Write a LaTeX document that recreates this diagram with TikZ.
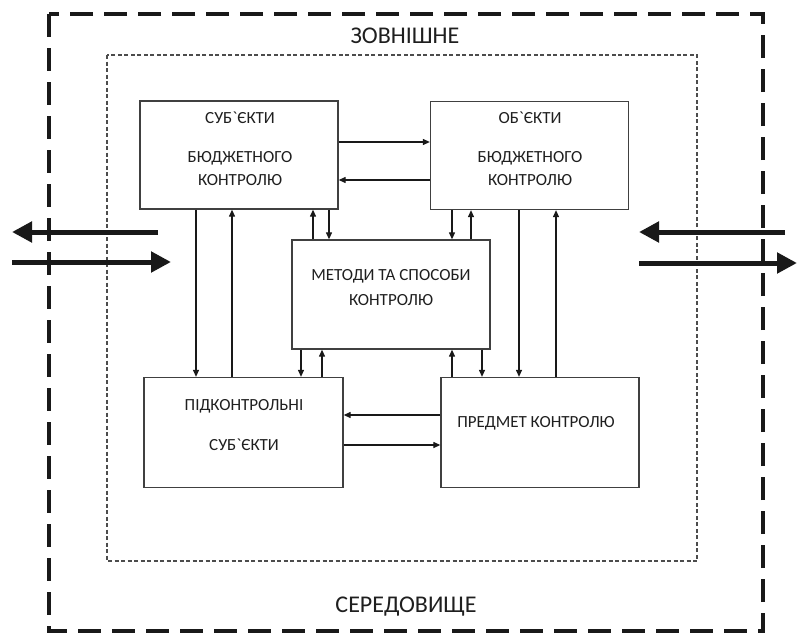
\documentclass[tikz,border=0pt]{standalone}
\usepackage{fontspec}
\setmainfont{Carlito}
\usetikzlibrary{arrows.meta}
\tikzset{
  box/.style={draw=black!75, line width=1.3pt, minimum width=198pt, minimum height=108pt, inner sep=0pt, fill=white},
  lbl/.style={font=\fontsize{17}{19}\selectfont, text=black!88, inner sep=0pt},
  big/.style={font=\fontsize{24}{28}\selectfont, text=black!88, inner sep=0pt},
  arr/.style={line width=1.2pt, draw=black!90, -{Triangle[length=7pt,width=6pt]}},
  fat/.style={line width=5pt, draw=black!90, -{Triangle[length=20pt,width=20pt]}},
  outer/.style={draw=black!90, line width=4pt, dash pattern=on 23pt off 11pt},
  inner/.style={draw=black!70, line width=1.1pt, dash pattern=on 4pt off 2.5pt}
}
\begin{document}
\begin{tikzpicture}[x=1pt,y=-1pt]
\useasboundingbox (0,0) rectangle (803,637);
\fill[white] (0,0) rectangle (803,637);
% frames
\draw[outer] (49,14) rectangle (763,631);
\draw[inner] (107,55) rectangle (697,561);
\node[big] (zov) at (405,36) {ЗОВНІШНЕ};
\node[big] (ser) at (406,607) {СЕРЕДОВИЩЕ};
% boxes
\node[box] (subj) at (239,155) {};
\node[box] (obj) at (529.5,155.5) {};
\node[box, minimum height=109pt] (meth) at (391,294.5) {};
\node[box, minimum width=199pt, minimum height=110pt] (pidk) at (243.5,432.5) {};
\node[box, minimum height=110pt] (pred) at (540,432.5) {};
% texts
\node[lbl] (t1) at (240,118) {СУБ\textasciigrave ЄКТИ};
\node[lbl] (t2) at (240,158) {БЮДЖЕТНОГО};
\node[lbl] (t3) at (240,180) {КОНТРОЛЮ};
\node[lbl] (o1) at (530,118) {ОБ\textasciigrave ЄКТИ};
\node[lbl] (o2) at (530,158) {БЮДЖЕТНОГО};
\node[lbl] (o3) at (530,180) {КОНТРОЛЮ};
\node[lbl] (m1) at (391,276) {МЕТОДИ ТА СПОСОБИ};
\node[lbl] (m2) at (391,300) {КОНТРОЛЮ};
\node[lbl] (p1) at (244,406) {ПІДКОНТРОЛЬНІ};
\node[lbl] (p2) at (244,445) {СУБ\textasciigrave ЄКТИ};
\node[lbl] (r1) at (536,423) {ПРЕДМЕТ КОНТРОЛЮ};
% horizontal arrows between boxes
\draw[arr] (0,142 -| subj.east) -- (0,142 -| obj.west);
\draw[arr] (0,180 -| obj.west) -- (0,180 -| subj.east);
\draw[arr] (0,415 -| pred.west) -- (0,415 -| pidk.east);
\draw[arr] (0,445 -| pidk.east) -- (0,445 -| pred.west);
% vertical arrows top to bottom boxes
\draw[arr] (196,0 |- subj.south) -- (196,0 |- pidk.north);
\draw[arr] (232,0 |- pidk.north) -- (232,0 |- subj.south);
\draw[arr] (519,0 |- obj.south) -- (519,0 |- pred.north);
\draw[arr] (556,0 |- pred.north) -- (556,0 |- obj.south);
% methods links
\draw[arr] (313,0 |- meth.north) -- (313,0 |- subj.south);
\draw[arr] (329,0 |- subj.south) -- (329,0 |- meth.north);
\draw[arr] (452,0 |- obj.south) -- (452,0 |- meth.north);
\draw[arr] (471,0 |- meth.north) -- (471,0 |- obj.south);
\draw[arr] (301,0 |- meth.south) -- (301,0 |- pidk.north);
\draw[arr] (322,0 |- pidk.north) -- (322,0 |- meth.south);
\draw[arr] (452,0 |- pred.north) -- (452,0 |- meth.south);
\draw[arr] (482,0 |- meth.south) -- (482,0 |- pred.north);
% big external arrows
\coordinate (la1) at (158,232);
\coordinate (la2) at (12,232);
\coordinate (lb1) at (12,262);
\coordinate (lb2) at (171,262);
\coordinate (ra1) at (785,232);
\coordinate (ra2) at (639,232);
\coordinate (rb1) at (639,263);
\coordinate (rb2) at (797,263);
\draw[fat] (la1) -- (la2);
\draw[fat] (lb1) -- (lb2);
\draw[fat] (ra1) -- (ra2);
\draw[fat] (rb1) -- (rb2);
\end{tikzpicture}
\end{document}
